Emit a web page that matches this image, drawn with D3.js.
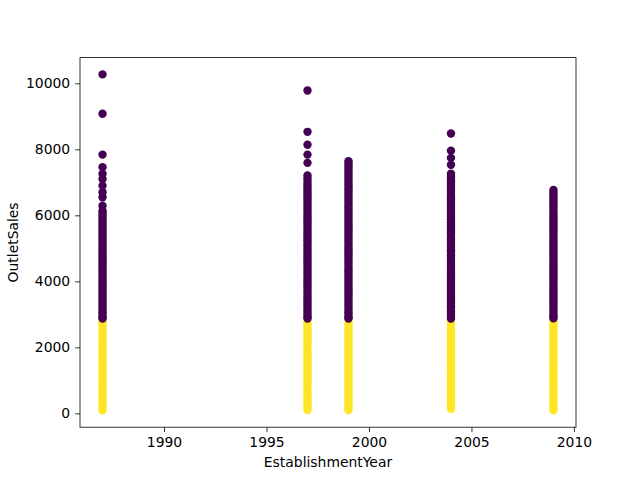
<!DOCTYPE html>
<html>
<head>
<meta charset="utf-8">
<script src="https://cdn.jsdelivr.net/npm/d3@7"></script>
<style>
  body { margin: 0; background: #fff; }
  text { font-family: "DejaVu Sans", sans-serif; }
</style>
</head>
<body>
<svg width="640" height="480"></svg>
<script>

// establishment years of the outlets
const years = [1987, 1997, 1999, 2004, 2009];

// cluster 0 (high sales), one list per year
const highSales = [
  [10270, 9080, 7840, 7460, 7260, 7100, 6900, 6700, 6550, 6290, 6140, 6071, 5993, 5921, 5846, 5770, 5688, 5612, 5537, 5460, 5381, 5307, 5226, 5150, 5074, 4993, 4918, 4840, 4762, 4689, 4610, 4531, 4457, 4379, 4302, 4224, 4148, 4070, 3991, 3915, 3838, 3760, 3683, 3604, 3528, 3451, 3373, 3297, 3218, 3141, 3062, 2987, 2910, 2876],
  [9780, 8530, 8140, 7840, 7590, 7210, 7120, 7040, 6960, 6880, 6800, 6720, 6641, 6565, 6487, 6409, 6332, 6254, 6176, 6098, 6021, 5944, 5866, 5789, 5711, 5633, 5556, 5478, 5400, 5323, 5245, 5168, 5090, 5012, 4935, 4857, 4780, 4702, 4624, 4547, 4469, 4392, 4314, 4236, 4159, 4081, 4004, 3926, 3848, 3771, 3693, 3616, 3538, 3460, 3383, 3305, 3228, 3150, 3072, 2995, 2917, 2876],
  [7640, 7565, 7488, 7410, 7333, 7255, 7178, 7100, 7022, 6945, 6867, 6790, 6712, 6634, 6557, 6479, 6402, 6324, 6246, 6169, 6091, 6014, 5936, 5858, 5781, 5703, 5626, 5548, 5470, 5393, 5315, 5238, 5160, 5082, 5005, 4927, 4850, 4772, 4694, 4617, 4539, 4462, 4384, 4306, 4229, 4151, 4074, 3996, 3918, 3841, 3763, 3686, 3608, 3530, 3453, 3375, 3298, 3220, 3142, 3065, 2987, 2910, 2876],
  [8480, 7960, 7740, 7530, 7260, 7185, 7108, 7031, 6953, 6876, 6799, 6722, 6644, 6567, 6490, 6412, 6335, 6258, 6181, 6103, 6026, 5949, 5871, 5794, 5717, 5640, 5562, 5485, 5408, 5330, 5253, 5176, 5099, 5021, 4944, 4867, 4789, 4712, 4635, 4558, 4480, 4403, 4326, 4248, 4171, 4094, 4017, 3939, 3862, 3785, 3707, 3630, 3553, 3476, 3398, 3321, 3244, 3166, 3089, 3012, 2935, 2876],
  [6770, 6694, 6617, 6541, 6464, 6388, 6311, 6235, 6158, 6082, 6005, 5929, 5852, 5776, 5699, 5623, 5546, 5470, 5393, 5317, 5240, 5164, 5087, 5011, 4934, 4858, 4781, 4705, 4628, 4552, 4475, 4399, 4322, 4246, 4169, 4093, 4016, 3940, 3863, 3787, 3710, 3634, 3557, 3481, 3404, 3328, 3251, 3175, 3098, 3022, 2945, 2880]
];

// cluster 1 (low sales), one list per year
const lowSales = [
  [2810, 2735, 2652, 2570, 2493, 2410, 2331, 2255, 2170, 2094, 2012, 1935, 1851, 1772, 1690, 1613, 1530, 1452, 1371, 1290, 1212, 1130, 1052, 973, 890, 812, 731, 650, 572, 490, 411, 330, 252, 171, 90],
  [2805, 2728, 2649, 2571, 2488, 2407, 2329, 2248, 2167, 2090, 2009, 1930, 1848, 1769, 1687, 1609, 1527, 1448, 1368, 1287, 1209, 1127, 1049, 968, 887, 808, 727, 648, 567, 488, 406, 327, 248, 168, 100],
  [2808, 2731, 2650, 2568, 2490, 2409, 2328, 2250, 2169, 2088, 2010, 1929, 1850, 1770, 1689, 1610, 1529, 1450, 1369, 1288, 1210, 1129, 1050, 970, 889, 810, 729, 650, 569, 489, 409, 329, 250, 170, 98],
  [2810, 2732, 2651, 2572, 2491, 2411, 2330, 2251, 2171, 2091, 2011, 1931, 1851, 1771, 1691, 1611, 1531, 1451, 1371, 1291, 1211, 1131, 1051, 971, 891, 811, 731, 651, 571, 491, 411, 331, 251, 190, 140],
  [2807, 2729, 2648, 2569, 2489, 2408, 2329, 2249, 2168, 2089, 2009, 1930, 1849, 1769, 1690, 1609, 1530, 1449, 1370, 1289, 1210, 1129, 1050, 970, 889, 810, 730, 649, 570, 489, 410, 329, 250, 170, 92]
];

const clusterColors = ["#440154", "#fde725"];

const svg = d3.select("svg");

const plotLeft = 80, plotRight = 576, plotTop = 57.6, plotBottom = 427.2;

// points: low cluster first so the high cluster sits on top at the seam
let points = [];
years.forEach(function(yr, i) {
  lowSales[i].forEach(function(v) { points.push({ year: yr, sales: v, cluster: 1 }); });
});
years.forEach(function(yr, i) {
  highSales[i].forEach(function(v) { points.push({ year: yr, sales: v, cluster: 0 }); });
});

// matplotlib-style 5% margins
const xExt = d3.extent(points, d => d.year);
const yExt = d3.extent(points, d => d.sales);
const xPad = (xExt[1] - xExt[0]) * 0.05;
const yPad = (yExt[1] - yExt[0]) * 0.05;

const x = d3.scaleLinear().domain([xExt[0] - xPad, xExt[1] + xPad]).range([plotLeft, plotRight]);
const y = d3.scaleLinear().domain([yExt[0] - yPad, yExt[1] + yPad]).range([plotBottom, plotTop]);

svg.append("g")
  .selectAll("circle")
  .data(points)
  .join("circle")
  .attr("cx", d => x(d.year))
  .attr("cy", d => y(d.sales))
  .attr("r", 4.2)
  .attr("fill", d => clusterColors[d.cluster]);

// frame
svg.append("rect")
  .attr("x", plotLeft).attr("y", plotTop)
  .attr("width", plotRight - plotLeft).attr("height", plotBottom - plotTop)
  .attr("fill", "none").attr("stroke", "#000").attr("stroke-width", 0.8);

const xAxis = svg.append("g")
  .attr("transform", `translate(0,${plotBottom})`)
  .call(d3.axisBottom(x).tickValues([1990, 1995, 2000, 2005, 2010]).tickFormat(d3.format("d")).tickSize(4.9).tickPadding(4.9));

const yAxis = svg.append("g")
  .attr("transform", `translate(${plotLeft},0)`)
  .call(d3.axisLeft(y).tickValues([0, 2000, 4000, 6000, 8000, 10000]).tickFormat(d3.format("d")).tickSize(4.9).tickPadding(4.9));

[xAxis, yAxis].forEach(function(a) {
  a.select(".domain").remove();
  a.selectAll(".tick line").attr("stroke", "#000").attr("stroke-width", 0.8);
  a.selectAll(".tick text").attr("fill", "#000").style("font-size", "13.9px").style("font-family", "DejaVu Sans");
});

svg.append("text")
  .attr("x", (plotLeft + plotRight) / 2)
  .attr("y", 467)
  .attr("text-anchor", "middle")
  .style("font-size", "13.9px")
  .text("EstablishmentYear");

svg.append("text")
  .attr("transform", `translate(18,${(plotTop + plotBottom) / 2}) rotate(-90)`)
  .attr("text-anchor", "middle")
  .style("font-size", "13.9px")
  .text("OutletSales");

</script>
</body>
</html>
